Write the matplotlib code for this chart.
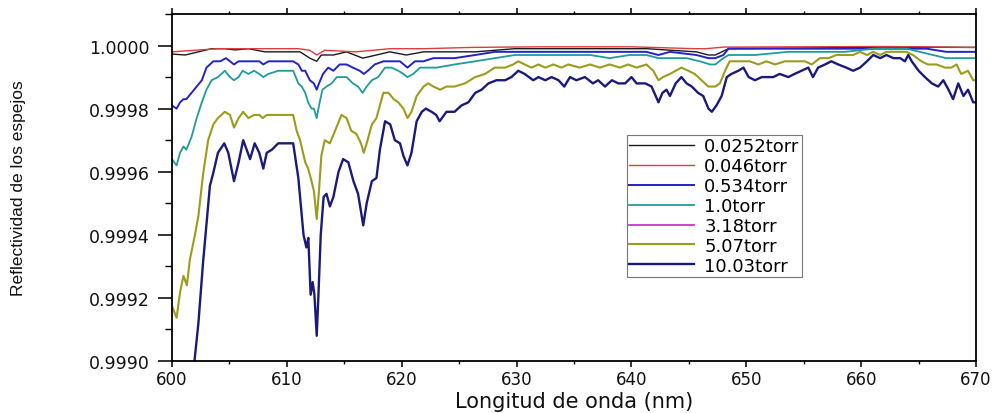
import matplotlib
matplotlib.use("Agg")
import matplotlib.pyplot as plt
from matplotlib.ticker import MultipleLocator, FormatStrFormatter
from matplotlib import font_manager

# ---- data: mirror reflectivity vs wavelength at several gas pressures ----
labels = ["0.0252torr", "0.046torr", "0.534torr", "1.0torr", "3.18torr", "5.07torr", "10.03torr"]
colors = ["#1a1a1a", "#e03c3c", "#2323c8", "#1f9b9b", "#cc33cc", "#9c9c1c", "#1a1a7a"]

wl_00252 = [600.0, 601.15, 602.3, 603.45, 604.6, 605.5, 606.65, 608.1, 609.55, 610.7, 611.15,
            612.0, 612.6, 613.0, 614.05, 615.2, 616.6, 617.8, 618.95, 620.4, 621.9, 623.3,
            626.4, 629.85, 635.1, 641.3, 645.65, 646.7, 647.3, 648.45, 655.0, 662.0, 670.0]
r_00252 = [0.999973, 0.99997, 0.99998, 0.99999, 0.99999, 0.999986, 0.99999, 0.99998, 0.99998,
           0.99998, 0.99998, 0.99996, 0.99995, 0.99997, 0.99997, 0.99998, 0.99996, 0.99997,
           0.99998, 0.99997, 0.99998, 0.99998, 0.99998, 0.99999, 0.99999, 0.99999, 0.99998,
           0.99997, 0.99997, 0.99999, 0.999992, 0.999995, 0.999994]

wl_0046 = [600.0, 602.0, 604.0, 607.0, 611.0, 612.0, 612.6, 613.3, 616.0, 619.0, 622.0,
           626.0, 632.0, 640.0, 645.5, 646.5, 648.0, 655.0, 662.0, 670.0]
r_0046 = [0.99998, 0.999985, 0.99999, 0.99999, 0.99999, 0.999985, 0.99997, 0.999985, 0.99998,
          0.99999, 0.99999, 0.999994, 0.999996, 0.999996, 0.99999, 0.99999, 0.999995, 0.999996,
          0.999997, 0.999994]

wl_0534 = [600.0, 600.4, 600.7, 601.0, 601.25, 601.7, 602.15, 602.6, 603.0, 603.6, 604.2, 604.7,
           605.05, 605.4, 605.8, 606.2, 606.65, 607.15, 607.6, 607.95, 608.4, 609.4, 610.55,
           611.0, 611.3, 611.6, 612.0, 612.35, 612.6, 612.8, 613.15, 613.6, 614.05, 614.6,
           615.2, 615.75, 616.35, 616.7, 617.05, 617.65, 618.4, 619.1, 619.85, 620.5, 621.15,
           621.9, 622.75, 624.6, 626.4, 628.1, 629.85, 631.6, 633.35, 635.1, 638.1, 641.3,
           642.35, 643.35, 645.65, 646.7, 647.3, 648.0, 648.45, 652.2, 656.55, 660.0, 663.95,
           665.7, 667.4, 670.0]
r_0534 = [0.99981, 0.99980, 0.99982, 0.99983, 0.99983, 0.99985, 0.99987, 0.99989, 0.99993,
          0.99995, 0.99995, 0.99996, 0.99995, 0.99994, 0.99995, 0.99995, 0.99995, 0.99995,
          0.99995, 0.99994, 0.99995, 0.99995, 0.99995, 0.99994, 0.99992, 0.99992, 0.99989,
          0.99988, 0.99986, 0.99988, 0.99991, 0.99993, 0.99992, 0.99994, 0.99994, 0.99993,
          0.99992, 0.99991, 0.99992, 0.99994, 0.99995, 0.99995, 0.99995, 0.99993, 0.99995,
          0.99995, 0.99996, 0.99996, 0.99997, 0.99998, 0.99998, 0.99998, 0.99998, 0.99998,
          0.99998, 0.99998, 0.99997, 0.99998, 0.99997, 0.99996, 0.99996, 0.99997, 0.99999,
          0.99999, 0.99999, 0.99999, 0.99999, 0.99999, 0.99998, 0.99998]

wl_10 = [600.0, 600.4, 600.7, 601.0, 601.25, 601.7, 602.15, 602.6, 603.0, 603.45, 604.0, 604.6,
         605.05, 605.4, 605.8, 606.15, 606.65, 607.15, 607.6, 607.95, 608.4, 609.25, 610.1,
         610.55, 611.0, 611.3, 611.6, 611.85, 612.15, 612.35, 612.6, 612.8, 613.1, 613.45,
         613.9, 614.35, 614.75, 615.2, 615.75, 616.2, 616.6, 616.95, 617.4, 617.95, 618.55,
         619.1, 619.7, 620.15, 620.5, 621.0, 621.6, 622.3, 623.05, 624.6, 626.4, 628.1,
         629.85, 631.6, 633.35, 635.1, 636.4, 638.1, 639.85, 641.3, 642.35, 643.35, 644.8,
         645.95, 646.85, 647.3, 648.0, 648.45, 650.75, 653.65, 656.55, 658.6, 661.05, 663.95,
         665.1, 666.25, 667.4, 668.6, 670.0]
r_10 = [0.99964, 0.99962, 0.99966, 0.99968, 0.99967, 0.99971, 0.99977, 0.99982, 0.99986,
        0.99989, 0.99990, 0.99992, 0.99990, 0.99989, 0.99990, 0.99992, 0.99991, 0.99992,
        0.99991, 0.99990, 0.99991, 0.99992, 0.99992, 0.99992, 0.99988, 0.99987, 0.99985,
        0.99982, 0.99980, 0.99980, 0.99977, 0.99981, 0.99986, 0.99987, 0.99988, 0.99990,
        0.99990, 0.99990, 0.99988, 0.99987, 0.99985, 0.99987, 0.99989, 0.99990, 0.99993,
        0.99993, 0.99992, 0.99991, 0.99990, 0.99991, 0.99993, 0.99993, 0.99993, 0.99994,
        0.99995, 0.99996, 0.99997, 0.99997, 0.99997, 0.99997, 0.99997, 0.99996, 0.99997,
        0.99997, 0.99996, 0.99996, 0.99996, 0.99995, 0.99994, 0.99994, 0.99996, 0.99997,
        0.99997, 0.99998, 0.99998, 0.99998, 0.99999, 0.99999, 0.99998, 0.99997, 0.99996,
        0.99996, 0.99996]

wl_318 = []
r_318 = []

wl_507 = [600.0, 600.4, 600.7, 601.0, 601.3, 601.55, 602.0, 602.3, 602.7, 603.15, 603.6, 604.0,
          604.6, 605.05, 605.4, 605.8, 606.2, 606.65, 607.15, 607.6, 607.9, 608.25, 608.8,
          609.4, 610.0, 610.55, 610.85, 611.15, 611.6, 611.85, 612.15, 612.35, 612.6, 612.8,
          613.0, 613.3, 613.75, 614.2, 614.75, 615.2, 615.6, 616.05, 616.45, 616.7, 616.95,
          617.4, 617.8, 618.4, 618.85, 619.3, 619.7, 620.15, 620.5, 620.85, 621.3, 621.9,
          622.3, 622.75, 623.35, 623.9, 624.6, 625.5, 626.4, 627.25, 628.1, 629.0, 629.7,
          630.15, 630.7, 631.3, 631.9, 632.5, 633.2, 633.9, 634.5, 635.5, 636.4, 637.25,
          638.1, 639.0, 639.7, 640.45, 641.3, 641.9, 642.35, 642.75, 643.35, 643.85, 644.35,
          644.95, 645.5, 646.1, 646.7, 647.3, 647.7, 648.15, 648.55, 649.15, 649.75, 650.3,
          651.05, 651.75, 652.5, 653.35, 654.2, 655.1, 655.7, 656.4, 657.15, 657.85, 658.6,
          659.3, 659.9, 660.5, 661.05, 661.65, 662.2, 663.1, 663.95, 664.5, 665.25, 665.8,
          666.55, 667.3, 667.85, 668.3, 668.7, 669.3, 669.75, 670.0]
r_507 = [0.999174, 0.999137, 0.999217, 0.99927, 0.99924, 0.99932, 0.99940, 0.99946, 0.99959,
         0.99970, 0.99975, 0.99977, 0.99979, 0.99978, 0.99974, 0.99977, 0.99979, 0.99977,
         0.99978, 0.99978, 0.99977, 0.99978, 0.99978, 0.99978, 0.99978, 0.99978, 0.99973,
         0.99970, 0.99963, 0.99961, 0.99957, 0.99954, 0.99945, 0.99954, 0.99965, 0.99970,
         0.99969, 0.99973, 0.99978, 0.99977, 0.99973, 0.99972, 0.99969, 0.99966, 0.99969,
         0.99975, 0.99977, 0.99985, 0.99985, 0.99983, 0.99982, 0.99980, 0.99977, 0.99979,
         0.99984, 0.99987, 0.99988, 0.99987, 0.99986, 0.99987, 0.99987, 0.99988, 0.99990,
         0.99991, 0.99993, 0.99993, 0.99994, 0.99995, 0.99994, 0.99993, 0.99994, 0.99993,
         0.99994, 0.99993, 0.99994, 0.99993, 0.99994, 0.99993, 0.99994, 0.99993, 0.99994,
         0.99993, 0.99994, 0.99992, 0.99989, 0.99990, 0.99991, 0.99992, 0.99993, 0.99992,
         0.99991, 0.99989, 0.99987, 0.99987, 0.99988, 0.99992, 0.99995, 0.99995, 0.99995,
         0.99995, 0.99994, 0.99995, 0.99994, 0.99995, 0.99995, 0.99995, 0.99994, 0.99996,
         0.99996, 0.99997, 0.99997, 0.99997, 0.99998, 0.99997, 0.99998, 0.99997, 0.99998,
         0.99998, 0.99998, 0.99997, 0.99995, 0.99994, 0.99994, 0.99993, 0.99993, 0.99994,
         0.99991, 0.99992, 0.99989, 0.99989]

wl_1003 = [601.9, 602.3, 602.7, 603.3, 603.6, 604.0, 604.55, 604.9, 605.4, 605.8, 606.2, 606.8,
           607.2, 607.6, 607.95, 608.25, 608.7, 609.25, 610.0, 610.55, 611.0, 611.15, 611.45,
           611.7, 611.87, 612.07, 612.25, 612.4, 612.6, 612.75, 612.95, 613.2, 613.45, 613.75,
           614.05, 614.5, 614.9, 615.35, 615.8, 616.2, 616.65, 616.95, 617.4, 617.8, 618.1,
           618.55, 619.0, 619.4, 619.85, 620.15, 620.5, 620.85, 621.3, 621.75, 622.1, 622.6,
           623.0, 623.3, 623.9, 624.6, 625.2, 625.8, 626.4, 626.95, 627.55, 628.25, 629.0,
           629.55, 630.15, 630.7, 631.45, 631.9, 632.5, 633.05, 633.65, 634.15, 634.65, 635.2,
           635.95, 636.65, 637.1, 637.7, 638.3, 638.85, 639.45, 640.0, 640.45, 641.2, 641.75,
           642.35, 642.7, 643.05, 643.35, 643.85, 644.35, 644.8, 645.25, 645.8, 646.25, 646.7,
           647.0, 647.4, 647.85, 648.3, 648.7, 649.3, 649.75, 650.2, 650.75, 651.35, 651.75,
           652.35, 652.9, 653.65, 654.2, 654.8, 655.4, 655.8, 656.25, 656.85, 657.4, 658.0,
           658.7, 659.3, 659.9, 660.5, 661.05, 661.65, 662.2, 662.8, 663.4, 663.8, 664.1,
           664.4, 665.0, 665.55, 666.15, 666.7, 667.15, 667.6, 668.0, 668.45, 668.9, 669.3,
           669.75, 670.0]
r_1003 = [0.99898, 0.99912, 0.99931, 0.999555, 0.999597, 0.99966, 0.99969, 0.99966, 0.99957,
          0.99963, 0.99970, 0.99964, 0.99969, 0.99966, 0.99961, 0.99966, 0.99967, 0.99969,
          0.99969, 0.99969, 0.99958, 0.99952, 0.99940, 0.99936, 0.99939, 0.99921, 0.99925,
          0.99921, 0.99908, 0.99921, 0.99940, 0.99952, 0.99953, 0.99949, 0.99952, 0.99960,
          0.99964, 0.99963, 0.99957, 0.99953, 0.99943, 0.99950, 0.99957, 0.99958, 0.99967,
          0.99976, 0.99975, 0.99970, 0.99969, 0.99965, 0.99962, 0.99966, 0.99976, 0.99979,
          0.99980, 0.99979, 0.99978, 0.99976, 0.99979, 0.99979, 0.99981, 0.99982, 0.99985,
          0.99986, 0.99988, 0.99989, 0.99989, 0.99990, 0.99992, 0.99991, 0.99989, 0.99990,
          0.99989, 0.99990, 0.99989, 0.99987, 0.99990, 0.99989, 0.99990, 0.99988, 0.99989,
          0.99987, 0.99989, 0.99988, 0.99988, 0.99990, 0.99988, 0.99988, 0.99987, 0.99982,
          0.99985, 0.99986, 0.99984, 0.99988, 0.99990, 0.99988, 0.99987, 0.99985, 0.99984,
          0.99980, 0.99979, 0.99981, 0.99984, 0.99990, 0.99991, 0.99992, 0.99993, 0.99990,
          0.99989, 0.99990, 0.99990, 0.99990, 0.99991, 0.99990, 0.99991, 0.99992, 0.99993,
          0.99990, 0.99993, 0.99994, 0.99995, 0.99994, 0.99993, 0.99992, 0.99993, 0.99995,
          0.99997, 0.99996, 0.99997, 0.99996, 0.99996, 0.99995, 0.99997, 0.99995, 0.99992,
          0.99990, 0.99988, 0.99987, 0.99989, 0.99986, 0.99983, 0.99988, 0.99984, 0.99986,
          0.99982, 0.99982]

series = [(wl_00252, r_00252), (wl_0046, r_0046), (wl_0534, r_0534), (wl_10, r_10),
          (wl_318, r_318), (wl_507, r_507), (wl_1003, r_1003)]
widths = [1.0, 1.0, 1.4, 1.3, 1.3, 1.5, 1.7]

x_ticks_major = 10
y_ticks_major = 0.0002

# ---- fonts ----
available = {f.name for f in font_manager.fontManager.ttflist}
narrow = "Liberation Sans Narrow" if "Liberation Sans Narrow" in available else "Liberation Sans"
plt.rcParams["font.family"] = ["DejaVu Sans"]

fig = plt.figure(figsize=(9.97, 4.14), dpi=100)
ax = fig.add_axes([0.1725, 0.1256, 0.8065, 0.8382])

for (wl, r), lab, col, lw in zip(series, labels, colors, widths):
    ax.plot(wl, r, color=col, lw=lw, label=lab)

ax.set_xlim(600, 670)
ax.set_ylim(0.9990, 1.0001)

ax.xaxis.set_major_locator(MultipleLocator(x_ticks_major))
ax.xaxis.set_minor_locator(MultipleLocator(x_ticks_major / 2))
ax.yaxis.set_major_locator(MultipleLocator(y_ticks_major))
ax.yaxis.set_minor_locator(MultipleLocator(y_ticks_major / 2))
ax.yaxis.set_major_formatter(FormatStrFormatter("%.4f"))

for s in ax.spines.values():
    s.set_linewidth(1.3)

ax.tick_params(axis="x", which="major", direction="out", length=4.5, width=1.2,
               top=True, labelsize=12, pad=2, colors="#111111")
ax.tick_params(axis="x", which="minor", direction="out", length=2.5, width=1.0, top=True)
ax.tick_params(axis="y", which="major", direction="out", length=10, width=1.2,
               right=False, labelsize=12.5, pad=6, colors="#111111")
ax.tick_params(axis="y", which="minor", direction="out", length=5, width=1.0, right=False)

ax.set_xlabel("Longitud de onda (nm)", fontsize=15, labelpad=2, color="#111111")
ax.set_ylabel("Reflectividad de los espejos", fontsize=12.5, family=narrow, color="#111111")
ax.yaxis.set_label_coords(-0.181, 0.5)

leg = ax.legend(loc="upper left", bbox_to_anchor=(0.566, 0.651), fontsize=13,
                frameon=True, fancybox=False, shadow=False, labelspacing=0.105,
                handlelength=3.6, handletextpad=0.55, borderpad=0.12, borderaxespad=0)
leg.get_frame().set_edgecolor("#555555")
leg.get_frame().set_linewidth(0.8)

fig.savefig("out.png", dpi=100)
